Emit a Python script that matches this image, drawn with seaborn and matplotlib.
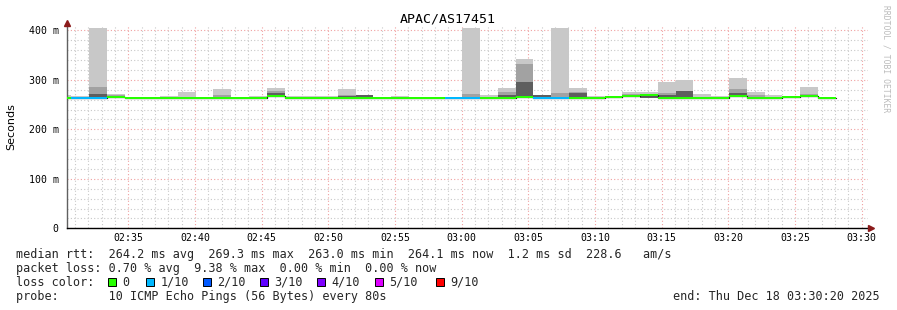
import numpy as np
import pandas as pd
import matplotlib
matplotlib.use("Agg")
import matplotlib.pyplot as plt
import seaborn as sns
from matplotlib.patches import Rectangle
from matplotlib.ticker import MultipleLocator, FuncFormatter

# ---------------- data (ms) ----------------
step_min = 80 / 60.0          # probe step: 80 s
first_start = -0.614          # minutes after 02:30 of first sample start
median = [264, 264, 264, 265, 263, 263, 263, 263, 263, 263, 263, 263,
          267, 264, 264, 264, 264, 264, 263, 263, 263, 263, 263, 263,
          264, 264, 265, 264, 264, 264, 263, 266, 267, 270, 264, 264,
          264, 264, 267, 263, 264, 265, 267, 263]
loss = [0, 1, 1, 0, 0, 0, 0, 0, 0, 0, 0, 0,
        0, 0, 0, 0, 0, 0, 0, 0, 0, 0, 1, 1,
        0, 0, 0, 1, 1, 0, 0, 0, 0, 0, 0, 0,
        0, 0, 0, 0, 0, 0, 0, 0]
smoke_lo = [263, 263, 263, 264, 262, 262, 262, 262, 262, 262, 262, 262,
            266, 263, 263, 263, 263, 263, 262, 262, 262, 262, 262, 262,
            263, 263, 264, 263, 263, 263, 262, 265, 266, 264, 263, 263,
            263, 263, 266, 262, 263, 264, 266, 262]
nan = np.nan
smoke_max = [269, 267, 405, 271, nan, nan, 268, 275, nan, 281, nan, 268,
             284, 267, 267, 267, 282, nan, nan, 268, nan, nan, nan, 405,
             269, 283, 342, nan, 405, 284, 268, nan, 275, 275, 295, 300,
             271, 267, 303, 275, 269, nan, 286, nan]
smoke_mid = [nan, nan, 286, 269, nan, nan, nan, nan, nan, 270, nan, nan,
             278, nan, nan, nan, 270, nan, nan, nan, nan, nan, nan, 271,
             nan, 276, 332, nan, 273, 276, nan, nan, 272, nan, 273, nan,
             nan, nan, 281, 270, nan, nan, 272, nan]
smoke_dark = [nan, nan, 271, nan, nan, nan, nan, nan, nan, nan, nan, nan,
              273, nan, nan, nan, 268, 270, nan, nan, nan, nan, nan, nan,
              nan, 270, 295, 269, nan, 274, nan, nan, nan, 268, 269, 277,
              nan, nan, 274, nan, nan, nan, 270, nan]

loss_colors = ["#26ff00", "#00b8ff", "#0059ff", "#5e00ff", "#7e00ff", "#dd00ff", "#ff0000"]
loss_labels = ["0", "1/10", "2/10", "3/10", "4/10", "5/10", "9/10"]

n = len(median)
t = first_start + step_min * np.arange(n)
df = pd.DataFrame({"t": t, "median": median, "loss": loss, "lo": smoke_lo,
                   "smax": smoke_max, "smid": smoke_mid, "sdark": smoke_dark})

# ---------------- figure ----------------
sns.set_theme(style="white")
plt.rcParams["font.family"] = ["DejaVu Sans Mono"]
W, H = 897, 310
fig = plt.figure(figsize=(W / 100, H / 100), dpi=100)
fig.patch.set_facecolor("white")

ax_left, ax_right, ax_bottom_px, ax_top_px = 67, 868, 228.3, 26
ax = fig.add_axes([ax_left / W, (H - ax_bottom_px) / H,
                   (ax_right - ax_left) / W, (ax_bottom_px - ax_top_px) / H])
ax.set_facecolor("white")
ax.set_xlim(0.4, 0.4 + (ax_right - ax_left) / 13.333)
ax.set_ylim(0, (ax_bottom_px - ax_top_px) / 0.495)
ax.set_axisbelow(True)

# smoke
for col, colr in [("smax", "#c8c8c8"), ("smid", "#a2a2a2"), ("sdark", "#5e5e5e")]:
    d = df.dropna(subset=[col])
    ax.bar(d["t"], d[col] - d["lo"], bottom=d["lo"], width=step_min, align="edge",
           color=colr, linewidth=0, zorder=2)

# black median line
tl = list(t) + [t[-1] + step_min]
ml = list(median) + [median[-1]]
sns.lineplot(x=tl, y=ml, ax=ax, drawstyle="steps-post", color="#202020",
             linewidth=0.9, zorder=3, estimator=None, sort=False)

# loss-coloured median band
ax.bar(df["t"], 4.4, bottom=df["median"] - 2.2, width=step_min, align="edge",
       color=[loss_colors[l] for l in loss], linewidth=0, zorder=4)

# grid
ax.xaxis.set_major_locator(MultipleLocator(5))
ax.xaxis.set_minor_locator(MultipleLocator(1))
ax.yaxis.set_major_locator(MultipleLocator(100))
ax.yaxis.set_minor_locator(MultipleLocator(20))
ax.grid(which="minor", color="#c8c8c8", linestyle=(0, (1, 2)), linewidth=0.8)
ax.grid(which="major", color="#f0a0a0", linestyle=(0, (1, 2)), linewidth=0.8)


def xfmt(v, pos):
    m = int(round(v)) + 30
    return f"{2 + m // 60:02d}:{m % 60:02d}"


def yfmt(v, pos):
    v = int(round(v))
    return "0" if v == 0 else f"{v} m"


ax.xaxis.set_major_formatter(FuncFormatter(xfmt))
ax.yaxis.set_major_formatter(FuncFormatter(yfmt))
ax.tick_params(axis="both", which="major", labelsize=7.1, colors="black",
               direction="inout", length=4, width=0.8)
ax.tick_params(axis="both", which="minor", direction="inout", length=2, width=0.6)
ax.tick_params(axis="x", pad=1.5)
ax.tick_params(axis="y", pad=4)
ax.tick_params(axis="both", which="both", color="#555555")

for s in ["top", "right"]:
    ax.spines[s].set_visible(False)
ax.spines["left"].set_color("#606060")
ax.spines["bottom"].set_color("black")
ax.spines["left"].set_linewidth(1)
ax.spines["bottom"].set_linewidth(1)
ax.spines["bottom"].set_bounds(0.4, 0.4 + (870 - ax_left) / 13.333)
ax.spines["bottom"].set_zorder(5)

# arrows
ax.plot([0], [1 + 3.5 / (ax_bottom_px - ax_top_px)], marker="^", color="#8b1a1a",
        markersize=4, transform=ax.transAxes, clip_on=False, zorder=6)
ax.plot([(871 - ax_left) / (ax_right - ax_left)], [0], marker=">", color="#8b1a1a",
        markersize=4, transform=ax.transAxes, clip_on=False, zorder=6)

# title / labels
fig.text(448 / W, 1 - 19.3 / H, "APAC/AS17451", ha="center", va="center",
         fontsize=9.5, color="black")
fig.text(11 / W, 1 - 127 / H, "Seconds", rotation=90, ha="center", va="center",
         fontsize=8, family="DejaVu Sans", color="black")
fig.text(886 / W, 1 - 5 / H, "RRDTOOL / TOBI OETIKER", rotation=-90, ha="center",
         va="top", fontsize=5.8, color="#bbbbbb")

# legend
fs = 8.5
lx = 16 / W
fig.text(lx, 1 - 254.3 / H,
         "median rtt:  264.2 ms avg  269.3 ms max  263.0 ms min  264.1 ms now  1.2 ms sd  228.6   am/s",
         ha="left", va="center", fontsize=fs)
fig.text(lx, 1 - 268.3 / H,
         "packet loss: 0.70 % avg  9.38 % max  0.00 % min  0.00 % now",
         ha="left", va="center", fontsize=fs)
fig.text(lx, 1 - 282.3 / H, "loss color:", ha="left", va="center", fontsize=fs)
sq_x = [108, 145.7, 203, 260, 317, 375, 435.7]
for xs, c, lab in zip(sq_x, loss_colors, loss_labels):
    fig.patches.append(Rectangle((xs / W, 1 - 286.3 / H), 8 / W, 8 / H,
                                 facecolor=c, edgecolor="black", linewidth=0.7,
                                 transform=fig.transFigure, figure=fig))
    fig.text((xs + 14.5) / W, 1 - 282.3 / H, lab, ha="left", va="center", fontsize=fs)
fig.text(lx, 1 - 296.5 / H, "probe:       10 ICMP Echo Pings (56 Bytes) every 80s",
         ha="left", va="center", fontsize=fs)
fig.text(880 / W, 1 - 296.5 / H, "end: Thu Dec 18 03:30:20 2025",
         ha="right", va="center", fontsize=fs)

fig.savefig("out.png", dpi=100, facecolor="white")
